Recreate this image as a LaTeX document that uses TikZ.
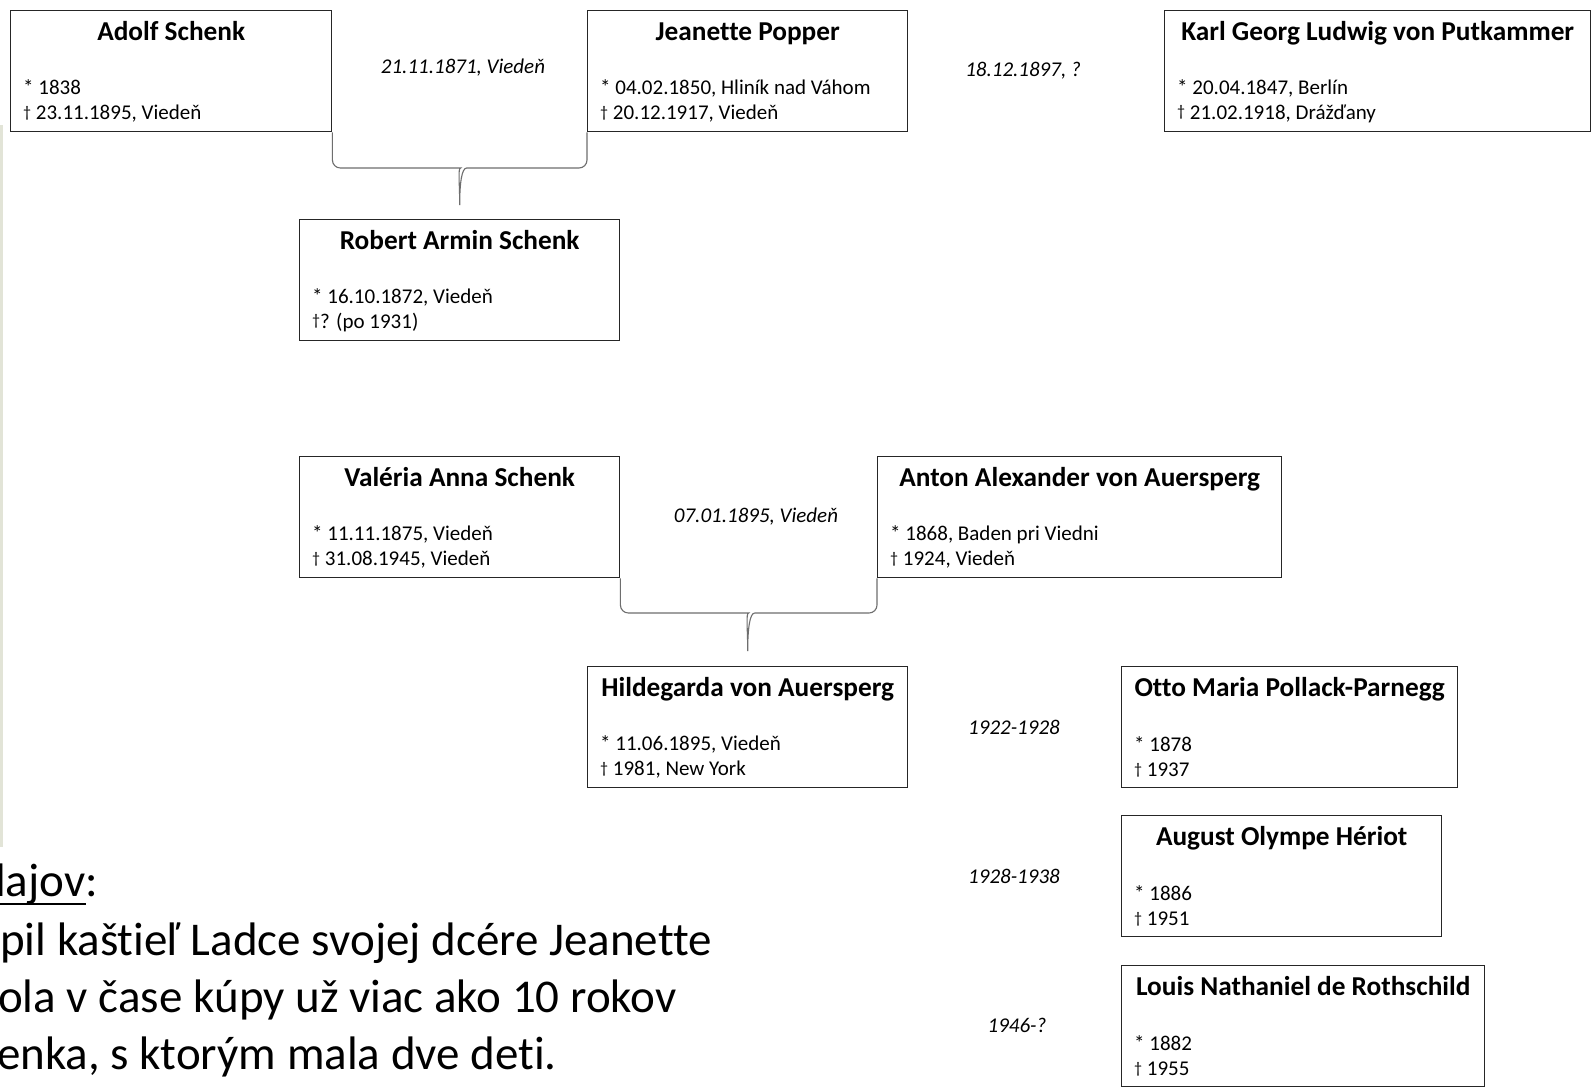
\documentclass[tikz,border=0pt]{standalone}
\usepackage{fontspec}
\setmainfont{Carlito}[Ligatures=NoCommon]
\usetikzlibrary{positioning,calc}
\definecolor{framegray}{RGB}{38,38,38}
\definecolor{bracegray}{RGB}{110,110,110}
\definecolor{stripgray}{RGB}{226,228,215}
\newcommand{\died}{\raisebox{2.5pt}{\fontsize{16}{16}\selectfont †}}

\begin{document}
\begin{tikzpicture}[x=1pt,y=-1pt,
  card/.style={draw=framegray,line width=1.4pt,anchor=north west,minimum height=121pt,inner sep=0pt},
  cardname/.style={anchor=base,font=\fontsize{27.3}{32}\selectfont\bfseries,inner sep=0pt},
  carddata/.style={anchor=west,align=left,font=\fontsize{21}{25}\selectfont,inner sep=0pt},
  wedding/.style={font=\fontsize{21}{25}\selectfont\itshape,inner sep=0pt},
  brace/.style={draw=bracegray,line width=1.1pt},
  note/.style={anchor=base west,font=\fontsize{47}{57}\selectfont,inner sep=0pt}]

  \useasboundingbox (0,0) rectangle (1593,1088);
  \fill[white] (0,0) rectangle (1593,1088);
  \fill[stripgray] (0,125) rectangle (3,847);

  %grandparents
  \node[card,minimum width=321pt] (adolf) at (10,10) {};
  \node[cardname] (adolf-n) at ($(adolf.north)+(0,30.5)$) {Adolf Schenk};
  \node[carddata] (adolf-d) at ($(adolf.north west)+(13,91)$) {* 1838\\\died{} 23.11.1895, Viedeň};

  \node[card,minimum width=320pt] (jeanette) at (587,10) {};
  \node[cardname] (jeanette-n) at ($(jeanette.north)+(0,30.5)$) {Jeanette Popper};
  \node[carddata] (jeanette-d) at ($(jeanette.north west)+(13,91)$) {* 04.02.1850, Hliník nad Váhom\\\died{} 20.12.1917, Viedeň};

  \node[card,minimum width=426pt] (karl) at (1164,10) {};
  \node[cardname] (karl-n) at ($(karl.north)+(0,30.5)$) {Karl Georg Ludwig von Putkammer};
  \node[carddata] (karl-d) at ($(karl.north west)+(13,91)$) {* 20.04.1847, Berlín\\\died{} 21.02.1918, Drážďany};

  \node[wedding] (w1) at (463,68) {21.11.1871, Viedeň};
  \node[wedding] (w2) at (1023,71) {18.12.1897, ?};

  %parents
  \node[card,minimum width=320pt] (robert) at (299,219) {};
  \node[cardname] (robert-n) at ($(robert.north)+(0,30.5)$) {Robert Armin Schenk};
  \node[carddata] (robert-d) at ($(robert.north west)+(13,91)$) {* 16.10.1872, Viedeň\\\died{}? (po 1931)};

  \node[card,minimum width=320pt] (valeria) at (299,456) {};
  \node[cardname] (valeria-n) at ($(valeria.north)+(0,30.5)$) {Valéria Anna Schenk};
  \node[carddata] (valeria-d) at ($(valeria.north west)+(13,91)$) {* 11.11.1875, Viedeň\\\died{} 31.08.1945, Viedeň};

  \node[card,minimum width=404pt] (anton) at (877,456) {};
  \node[cardname] (anton-n) at ($(anton.north)+(0,30.5)$) {Anton Alexander von Auersperg};
  \node[carddata] (anton-d) at ($(anton.north west)+(13,91)$) {* 1868, Baden pri Viedni\\\died{} 1924, Viedeň};

  \node[wedding] (w3) at (756,517) {07.01.1895, Viedeň};

  %daughter and her husbands
  \node[card,minimum width=320pt] (hilde) at (587,666) {};
  \node[cardname] (hilde-n) at ($(hilde.north)+(0,30.5)$) {Hildegarda von Auersperg};
  \node[carddata] (hilde-d) at ($(hilde.north west)+(13,91)$) {* 11.06.1895, Viedeň\\\died{} 1981, New York};

  \node[card,minimum width=336pt] (otto) at (1121,666) {};
  \node[cardname] (otto-n) at ($(otto.north)+(0,30.5)$) {Otto Maria Pollack-Parnegg};
  \node[carddata] (otto-d) at ($(otto.north west)+(13,91)$) {* 1878\\\died{} 1937};

  \node[card,minimum width=320pt] (august) at (1121,815) {};
  \node[cardname] (august-n) at ($(august.north)+(0,30.5)$) {August Olympe Hériot};
  \node[carddata] (august-d) at ($(august.north west)+(13,91)$) {* 1886\\\died{} 1951};

  \node[card,minimum width=363pt] (louis) at (1121,965) {};
  \node[cardname] (louis-n) at ($(louis.north)+(0,30.5)$) {Louis Nathaniel de Rothschild};
  \node[carddata] (louis-d) at ($(louis.north west)+(13,91)$) {* 1882\\\died{} 1955};

  \node[wedding] (w4) at (1014,727) {1922-1928};
  \node[wedding] (w5) at (1014,876) {1928-1938};
  \node[wedding] (w6) at (1017,1025) {1946-?};

  %draw braces
  \draw[brace] (adolf.south east) [rounded corners=8pt] |- ($(robert.north)+(-7,-51)$)
    [sharp corners] .. controls +(5,0) and +(0,-22) .. ($(robert.north)+(0,-14)$)
    .. controls +(0,-22) and +(-5,0) .. ($(robert.north)+(7,-51)$)
    [rounded corners=8pt] -| (jeanette.south west);
  \draw[brace] (valeria.south east) [rounded corners=8pt] |- ($(hilde.north)+(-7,-53)$)
    [sharp corners] .. controls +(5,0) and +(0,-22) .. ($(hilde.north)+(0,-15)$)
    .. controls +(0,-22) and +(-5,0) .. ($(hilde.north)+(7,-53)$)
    [rounded corners=8pt] -| (anton.south west);

  %text cut by the left edge
  \begin{scope}
    \clip (0,0) rectangle (1593,1088);
    \node[note] (note1) at (-19,896) {dajov};
    \node[note] (colon) at (note1.base east) {:};
    \draw[line width=2.4pt] ($(note1.base west)+(0,8)$) -- ($(note1.base east)+(0,8)$);
    \node[note] (note2) at (0,955) {pil kaštieľ Ladce svojej dcére Jeanette};
    \node[note] (note3) at (-2,1012) {ola v čase kúpy už viac ako 10 rokov};
    \node[note] (note4) at (-3,1069) {enka, s ktorým mala dve deti.};
  \end{scope}

\end{tikzpicture}
\end{document}
